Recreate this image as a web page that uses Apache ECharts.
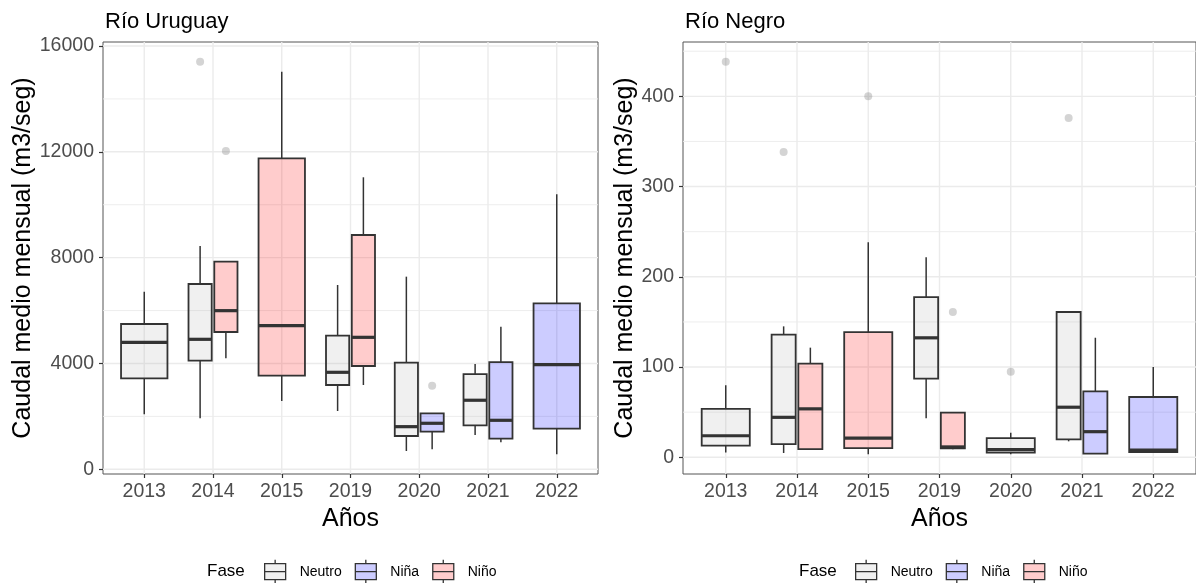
<!DOCTYPE html>
<html>
<head>
<meta charset="utf-8">
<script src="https://cdn.jsdelivr.net/npm/echarts@6/dist/echarts.min.js"></script>
<style>
  html, body { margin: 0; padding: 0; background: #ffffff; }
  #chart { width: 1196px; height: 583px; }
</style>
</head>
<body>
<div id="chart"></div>
<script>
// ---------- DATA ----------
const years = ['2013', '2014', '2015', '2019', '2020', '2021', '2022'];
const phases = ['Neutro', 'Niña', 'Niño'];

// Río Uruguay (boxes)
const uruYear  = ['2013', '2014', '2014', '2015', '2019', '2019', '2020', '2020', '2021', '2021', '2022'];
const uruPhase = ['Neutro', 'Neutro', 'Niño', 'Niño', 'Neutro', 'Niño', 'Neutro', 'Niña', 'Neutro', 'Niña', 'Niña'];
const uruMin   = [2079, 1928, 4195, 2582, 2204, 3187, 692, 755, 1297, 1020, 567];
const uruQ1    = [3440, 4106, 5190, 3539, 3187, 3905, 1259, 1422, 1660, 1157, 1536];
const uruMed   = [4800, 4913, 5996, 5429, 3666, 4988, 1611, 1739, 2610, 1852, 3955];
const uruQ3    = [5492, 7004, 7848, 11755, 5051, 8856, 4030, 2116, 3600, 4050, 6274];
const uruMax   = [6713, 8440, 7848, 15030, 6966, 11037, 7281, 2116, 3980, 5391, 10395];
// Río Uruguay (outliers)
const uruOutYear  = ['2014', '2014', '2020'];
const uruOutPhase = ['Neutro', 'Niño', 'Niña'];
const uruOutValue = [15407, 12031, 3155];
const uruTicks = [0, 4000, 8000, 12000, 16000];
const uruMinor = [2000, 6000, 10000, 14000];

// Río Negro (boxes)
const negYear  = ['2013', '2014', '2014', '2015', '2019', '2019', '2020', '2021', '2021', '2022'];
const negPhase = ['Neutro', 'Neutro', 'Niño', 'Niño', 'Neutro', 'Niño', 'Neutro', 'Neutro', 'Niña', 'Niña'];
const negMin   = [5.3, 4.8, 9.0, 3.5, 43.2, 8.8, 3.4, 17.7, 4.0, 5.1];
const negQ1    = [12.9, 14.7, 9.0, 10.2, 87.1, 10.0, 5.2, 19.8, 4.0, 5.9];
const negMed   = [23.9, 44.3, 53.7, 21.2, 132.4, 11.5, 8.5, 55.5, 28.4, 8.1];
const negQ3    = [53.7, 135.9, 103.7, 138.8, 177.6, 49.4, 21.2, 161.0, 73.1, 66.8];
const negMax   = [79.8, 145.1, 121.5, 238.2, 221.6, 49.4, 27.3, 161.0, 132.5, 100.0];
// Río Negro (outliers)
const negOutYear  = ['2013', '2014', '2015', '2019', '2020', '2021'];
const negOutPhase = ['Neutro', 'Neutro', 'Niño', 'Niño', 'Neutro', 'Neutro'];
const negOutValue = [438.4, 338.3, 400, 161, 94.7, 376];
const negTicks = [0, 100, 200, 300, 400];
const negMinor = [50, 150, 250, 350, 450];

// ---------- STYLE ----------
const FONT = 'Liberation Sans, Arial, sans-serif';
const phaseFill = {
  'Neutro': 'rgba(170,170,170,0.18)',
  'Niña': 'rgba(0,0,255,0.2)',
  'Niño': 'rgba(255,0,0,0.2)'
};
const LINE = '#333333';
const DODGE = 0.75; // total dodge width (in category units)
const legendIcon = 'path://M10.5,0L10.5,4M0,4L21,4L21,20L0,20ZM0,12L21,12M10.5,20L10.5,24';

// position helpers (dodge like ggplot2 position_dodge2)
function groupsOf(yearArr, phaseArr) {
  const g = {};
  years.forEach(y => {
    g[y] = phases.filter(p => yearArr.some((yy, i) => yy === y && phaseArr[i] === p));
  });
  return g;
}
function slot(groups, year, phase) {
  const list = groups[year];
  const n = list.length;
  const k = list.indexOf(phase);
  const idx = years.indexOf(year);
  return { x: idx - DODGE / 2 + (k + 0.5) * DODGE / n, w: 0.9 * DODGE / n };
}

function renderBox(params, api) {
  const x = api.value(0), w = api.value(6);
  const pMin = api.coord([x, api.value(1)]);
  const pQ1 = api.coord([x, api.value(2)]);
  const pMed = api.coord([x, api.value(3)]);
  const pQ3 = api.coord([x, api.value(4)]);
  const pMax = api.coord([x, api.value(5)]);
  const half = api.size([w, 0])[0] / 2;
  const cx = pMed[0];
  const fill = api.visual('color');
  return {
    type: 'group',
    children: [
      { type: 'line', shape: { x1: cx, y1: pMax[1], x2: cx, y2: pQ3[1] }, style: { stroke: LINE, lineWidth: 1.5 } },
      { type: 'line', shape: { x1: cx, y1: pQ1[1], x2: cx, y2: pMin[1] }, style: { stroke: LINE, lineWidth: 1.5 } },
      { type: 'rect', shape: { x: cx - half, y: pQ3[1], width: half * 2, height: pQ1[1] - pQ3[1] }, style: { fill: fill, stroke: LINE, lineWidth: 1.8 } },
      { type: 'line', shape: { x1: cx - half, y1: pMed[1], x2: cx + half, y2: pMed[1] }, style: { stroke: LINE, lineWidth: 3.2 } }
    ]
  };
}

function gridLineSeries(idx, values, horizontal, width) {
  return {
    type: 'custom', xAxisIndex: idx, yAxisIndex: idx, silent: true, z: 1,
    data: values.map(v => horizontal ? [0, v] : [v, 0]),
    encode: { x: 0, y: 1 },
    renderItem: function (params, api) {
      const cs = params.coordSys;
      const p = api.coord([api.value(0), api.value(1)]);
      const shape = horizontal
        ? { x1: cs.x, y1: p[1], x2: cs.x + cs.width, y2: p[1] }
        : { x1: p[0], y1: cs.y, x2: p[0], y2: cs.y + cs.height };
      return { type: 'line', shape: shape, style: { stroke: '#EBEBEB', lineWidth: width } };
    },
    tooltip: { show: false }
  };
}

function panelSeries(idx, yearArr, phaseArr, mn, q1, md, q3, mx, oYear, oPhase, oVal, ticks, minor) {
  const groups = groupsOf(yearArr, phaseArr);
  const out = [];
  out.push(gridLineSeries(idx, minor, true, 0.9));
  out.push(gridLineSeries(idx, ticks, true, 1.4));
  out.push(gridLineSeries(idx, years.map((y, i) => i), false, 1.4));
  phases.forEach(ph => {
    const data = [];
    yearArr.forEach((y, i) => {
      if (phaseArr[i] !== ph) return;
      const s = slot(groups, y, ph);
      data.push([s.x, mn[i], q1[i], md[i], q3[i], mx[i], s.w]);
    });
    out.push({
      type: 'custom', name: ph, xAxisIndex: idx, yAxisIndex: idx, z: 3,
      itemStyle: { color: phaseFill[ph] },
      data: data,
      encode: { x: 0, y: [1, 2, 3, 4, 5] },
      renderItem: renderBox
    });
  });
  out.push({
    type: 'scatter', name: 'outliers', xAxisIndex: idx, yAxisIndex: idx, z: 4,
    symbolSize: 8,
    itemStyle: { color: 'rgba(100,100,100,0.35)' },
    data: oVal.map((v, i) => [slot(groups, oYear[i], oPhase[i]).x, v])
  });
  return out;
}

function xAxisOf(idx) {
  const vals = years.map((y, i) => i);
  return {
    gridIndex: idx, type: 'value', min: -0.6, max: 6.6,
    name: 'Años', nameLocation: 'middle', nameGap: 28,
    nameTextStyle: { fontFamily: FONT, fontSize: 25, color: '#000' },
    axisLine: { show: false, onZero: false },
    axisTick: { show: true, customValues: vals, length: 4, lineStyle: { color: LINE, width: 1.2 } },
    axisLabel: { customValues: vals, formatter: v => years[Math.round(v)], margin: 8, fontFamily: FONT, fontSize: 19.5, color: '#4D4D4D' },
    splitLine: { show: false }
  };
}
function yAxisOf(idx, mn, mx, ticks, gap) {
  return {
    gridIndex: idx, type: 'value', min: mn, max: mx,
    name: 'Caudal medio mensual (m3/seg)', nameLocation: 'middle', nameGap: gap,
    nameTextStyle: { fontFamily: FONT, fontSize: 25, color: '#000' },
    axisLine: { show: false, onZero: false },
    axisTick: { show: true, customValues: ticks, length: 4, lineStyle: { color: LINE, width: 1.2 } },
    axisLabel: { customValues: ticks, formatter: v => String(v), margin: 9, fontFamily: FONT, fontSize: 19.5, color: '#4D4D4D' },
    splitLine: { show: false }
  };
}
function legendOf(left) {
  return {
    left: left, top: 559, orient: 'horizontal', padding: 0,
    itemWidth: 21, itemHeight: 24, itemGap: 13,
    selectedMode: false,
    textStyle: { fontFamily: FONT, fontSize: 14, color: '#000', padding: [0, 0, 0, 9] },
    data: phases.map(p => ({ name: p, icon: legendIcon, itemStyle: { color: phaseFill[p], borderColor: LINE, borderWidth: 1.3 } }))
  };
}
function titleOf(text, left, top, size) {
  return { text: text, left: left, top: top, padding: 0, textStyle: { fontFamily: FONT, fontSize: size, fontWeight: 'normal', color: '#000' } };
}

const chart = echarts.init(document.getElementById('chart'), null, { renderer: 'canvas' });
chart.setOption({
  animation: false,
  backgroundColor: '#ffffff',
  title: [
    titleOf('Río Uruguay', 105, 11, 22),
    titleOf('Río Negro', 685, 11, 22),
    titleOf('Fase', 207, 563, 17),
    titleOf('Fase', 799, 563, 17)
  ],
  legend: [legendOf(264), legendOf(855)],
  grid: [
    { left: 103, top: 42, width: 495, height: 432, show: true, borderColor: '#555', borderWidth: 1, backgroundColor: 'transparent' },
    { left: 683, top: 42, width: 516, height: 432, show: true, borderColor: '#555', borderWidth: 1, backgroundColor: 'transparent' }
  ],
  xAxis: [xAxisOf(0), xAxisOf(1)],
  yAxis: [yAxisOf(0, -178, 16151, uruTicks, 57), yAxisOf(1, -18.5, 460.2, negTicks, 45)],
  series: [].concat(
    panelSeries(0, uruYear, uruPhase, uruMin, uruQ1, uruMed, uruQ3, uruMax, uruOutYear, uruOutPhase, uruOutValue, uruTicks, uruMinor),
    panelSeries(1, negYear, negPhase, negMin, negQ1, negMed, negQ3, negMax, negOutYear, negOutPhase, negOutValue, negTicks, negMinor)
  )
});
</script>
</body>
</html>
